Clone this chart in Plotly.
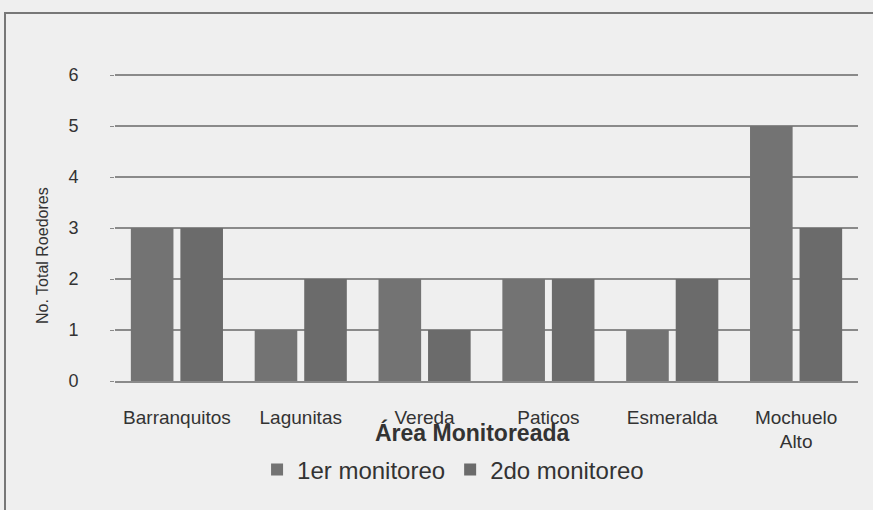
import plotly.graph_objects as go

categories = ["Barranquitos", "Lagunitas", "Vereda", "Paticos", "Esmeralda", "Mochuelo<br>Alto"]
monitoreo1 = [3, 1, 2, 2, 1, 5]
monitoreo2 = [3, 2, 1, 2, 2, 3]
series_names = ["1er monitoreo", "2do monitoreo"]
y_ticks = [0, 1, 2, 3, 4, 5, 6]

FONT = "Liberation Sans, Arial, sans-serif"
BG = "#efefef"
TXT = "#333333"

fig = go.Figure()
fig.add_trace(go.Bar(x=categories, y=monitoreo1, name=series_names[0],
                     marker=dict(color="#737373", line=dict(width=0))))
fig.add_trace(go.Bar(x=categories, y=monitoreo2, name=series_names[1],
                     marker=dict(color="#6b6b6b", line=dict(width=0))))

PT, PB, PL, PR = 74, 381, 115, 858
ph = PB - PT

fig.update_layout(
    width=873, height=510,
    margin=dict(l=PL, r=873 - PR, t=PT, b=510 - PB),
    paper_bgcolor=BG, plot_bgcolor=BG,
    barmode="group", bargap=0.2, bargroupgap=0.14,
    font=dict(family=FONT, color=TXT),
    showlegend=True,
    legend=dict(orientation="h", x=0.455, xanchor="center", y=(PB - 470) / ph, yanchor="middle",
                font=dict(size=24, color=TXT), bgcolor="rgba(0,0,0,0)",
                traceorder="normal"),
    xaxis=dict(showgrid=False, showline=True, linecolor="#8a8a8a", linewidth=1.5,
               tickfont=dict(size=19, family=FONT, color=TXT), ticks="",
               ticklabelstandoff=18),
    yaxis=dict(range=[0, 6.02], tickvals=y_ticks, showgrid=True, gridcolor="#8a8a8a",
               gridwidth=1.5, zeroline=False, ticks="outside", ticklen=4,
               tickcolor="#8a8a8a", tickfont=dict(size=18, family=FONT, color=TXT),
               ticklabelstandoff=28),
    annotations=[
        dict(text="<b>Área Monitoreada</b>", xref="paper", yref="paper",
             x=(472 - PL) / (PR - PL), y=(PB - 432) / ph, xanchor="center", yanchor="middle",
             showarrow=False, font=dict(size=23, family=FONT, color=TXT)),
        dict(text="No. Total Roedores", xref="paper", yref="paper", textangle=-90,
             x=(42 - PL) / (PR - PL), y=(PB - 256) / ph, xanchor="center", yanchor="middle",
             showarrow=False, font=dict(size=16, family=FONT, color=TXT)),
    ],
    shapes=[dict(type="rect", xref="paper", yref="paper",
                 x0=(5 - PL) / (PR - PL), x1=1.2, y0=-0.6, y1=(PB - 13) / ph,
                 line=dict(color="#777777", width=2), fillcolor="rgba(0,0,0,0)", layer="below")],
)

fig.write_html("out.html", config={"displayModeBar": False},
               post_script="document.body.style.margin='0';")
